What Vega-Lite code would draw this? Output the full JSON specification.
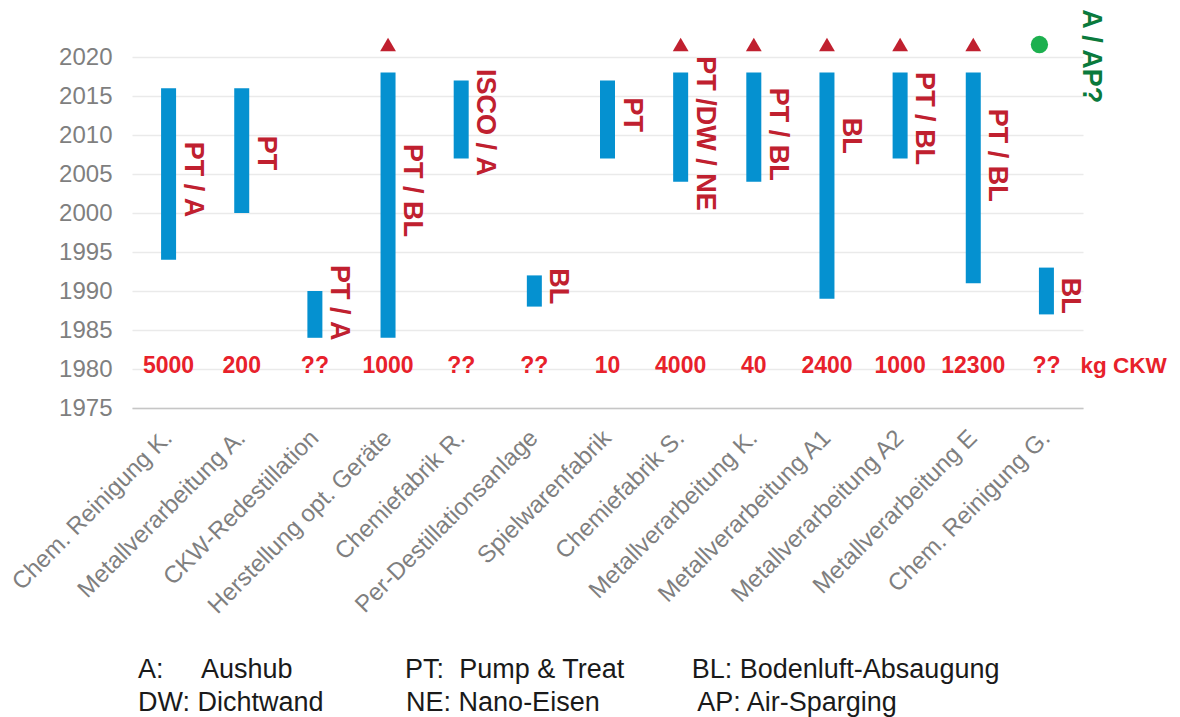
{
  "$schema": "https://vega.github.io/schema/vega-lite/v6.json",
  "width": 951,
  "height": 390,
  "padding": {"left": 7, "top": 8, "right": 5, "bottom": 5},
  "autosize": {"type": "pad"},
  "background": "white",
  "title": {
    "text": [
      "A:\u00a0\u00a0\u00a0\u00a0\u00a0Aushub\u00a0\u00a0\u00a0\u00a0\u00a0\u00a0\u00a0\u00a0\u00a0\u00a0\u00a0\u00a0\u00a0\u00a0\u00a0PT:\u00a0\u00a0Pump & Treat\u00a0\u00a0\u00a0\u00a0\u00a0\u00a0\u00a0\u00a0\u00a0BL: Bodenluft-Absaugung",
      "DW: Dichtwand\u00a0\u00a0\u00a0\u00a0\u00a0\u00a0\u00a0\u00a0\u00a0\u00a0\u00a0NE: Nano-Eisen\u00a0\u00a0\u00a0\u00a0\u00a0\u00a0\u00a0\u00a0\u00a0\u00a0\u00a0\u00a0\u00a0AP: Air-Sparging"
    ],
    "orient": "bottom",
    "anchor": "start",
    "frame": "group",
    "dx": 6,
    "offset": 39,
    "fontSize": 27,
    "fontWeight": "normal",
    "font": "Liberation Sans",
    "color": "#1A1A1A",
    "lineHeight": 33.4
  },
  "data": {
    "values": [
      {"Standort": "Chem. Reinigung K.", "von": 1994, "bis": 2016, "Massnahme": "PT / A", "labelYear": 2004.3, "ckw": "5000", "laufend": false},
      {"Standort": "Metallverarbeitung A.", "von": 2000, "bis": 2016, "Massnahme": "PT", "labelYear": 2007.7, "ckw": "200", "laufend": false},
      {"Standort": "CKW-Redestillation", "von": 1984, "bis": 1990, "Massnahme": "PT / A", "labelYear": 1988.5, "ckw": "??", "laufend": false},
      {"Standort": "Herstellung opt. Geräte", "von": 1984, "bis": 2018, "Massnahme": "PT / BL", "labelYear": 2002.9, "ckw": "1000", "laufend": true},
      {"Standort": "Chemiefabrik R.", "von": 2007, "bis": 2017, "Massnahme": "ISCO / A", "labelYear": 2011.6, "ckw": "??", "laufend": false},
      {"Standort": "Per-Destillationsanlage", "von": 1988, "bis": 1992, "Massnahme": "BL", "labelYear": 1990.6, "ckw": "??", "laufend": false},
      {"Standort": "Spielwarenfabrik", "von": 2007, "bis": 2017, "Massnahme": "PT", "labelYear": 2012.6, "ckw": "10", "laufend": false},
      {"Standort": "Chemiefabrik S.", "von": 2004, "bis": 2018, "Massnahme": "PT /DW / NE", "labelYear": 2010.2, "ckw": "4000", "laufend": true},
      {"Standort": "Metallverarbeitung K.", "von": 2004, "bis": 2018, "Massnahme": "PT / BL", "labelYear": 2010.1, "ckw": "40", "laufend": true},
      {"Standort": "Metallverarbeitung A1", "von": 1989, "bis": 2018, "Massnahme": "BL", "labelYear": 2009.9, "ckw": "2400", "laufend": true},
      {"Standort": "Metallverarbeitung A2", "von": 2007, "bis": 2018, "Massnahme": "PT / BL", "labelYear": 2012.1, "ckw": "1000", "laufend": true},
      {"Standort": "Metallverarbeitung E", "von": 1991, "bis": 2018, "Massnahme": "PT / BL", "labelYear": 2007.4, "ckw": "12300", "laufend": true},
      {"Standort": "Chem. Reinigung G.", "von": 1987, "bis": 1993, "Massnahme": "BL", "labelYear": 1989.4, "ckw": "??", "laufend": false, "geplant": "A / AP?", "geplantYear": 2020.1}
    ]
  },
  "encoding": {
    "x": {
      "field": "Standort",
      "type": "nominal",
      "sort": null,
      "title": null,
      "scale": {
        "domain": ["Chem. Reinigung K.", "Metallverarbeitung A.", "CKW-Redestillation", "Herstellung opt. Geräte", "Chemiefabrik R.", "Per-Destillationsanlage", "Spielwarenfabrik", "Chemiefabrik S.", "Metallverarbeitung K.", "Metallverarbeitung A1", "Metallverarbeitung A2", "Metallverarbeitung E", "Chem. Reinigung G."],
        "paddingInner": 0,
        "paddingOuter": 0
      }
    }
  },
  "layer": [
    {
      "mark": {"type": "bar", "size": 15, "color": "#0591D0"},
      "encoding": {
        "y": {
          "field": "von",
          "type": "quantitative",
          "title": null,
          "scale": {"domain": [1975, 2025], "nice": false, "zero": false},
          "axis": {"values": [1975, 1980, 1985, 1990, 1995, 2000, 2005, 2010, 2015, 2020], "format": "d"}
        },
        "y2": {"field": "bis"}
      }
    },
    {
      "mark": {"type": "text", "angle": 90, "align": "center", "baseline": "middle", "xOffset": 24, "fontSize": 27, "fontWeight": "bold", "font": "Liberation Sans", "color": "#C0202F"},
      "encoding": {
        "y": {"field": "labelYear", "type": "quantitative", "title": null},
        "text": {"field": "Massnahme"}
      }
    },
    {
      "transform": [{"filter": "datum.laufend"}],
      "mark": {"type": "point", "shape": "triangle-up", "filled": true, "size": 250, "color": "#C0202F", "opacity": 1},
      "encoding": {
        "y": {"datum": 2021.6, "type": "quantitative"}
      }
    },
    {
      "transform": [{"filter": "isValid(datum.geplant)"}],
      "mark": {"type": "circle", "size": 300, "color": "#1DB04F", "opacity": 1, "xOffset": -7},
      "encoding": {
        "y": {"datum": 2021.6, "type": "quantitative"}
      }
    },
    {
      "transform": [{"filter": "isValid(datum.geplant)"}],
      "mark": {"type": "text", "angle": 90, "align": "center", "baseline": "middle", "xOffset": 45, "fontSize": 27, "fontWeight": "bold", "font": "Liberation Sans", "color": "#0A7A3C"},
      "encoding": {
        "y": {"field": "geplantYear", "type": "quantitative", "title": null},
        "text": {"field": "geplant"}
      }
    },
    {
      "mark": {"type": "text", "align": "center", "baseline": "alphabetic", "dy": 4, "fontSize": 23, "fontWeight": "bold", "font": "Liberation Sans", "color": "#E8212B"},
      "encoding": {
        "y": {"datum": 1980, "type": "quantitative"},
        "text": {"field": "ckw"}
      }
    },
    {
      "data": {"values": [{"einheit": "kg CKW"}]},
      "mark": {"type": "text", "align": "left", "baseline": "alphabetic", "dy": 4, "xOffset": 34, "fontSize": 22.5, "fontWeight": "bold", "font": "Liberation Sans", "color": "#E8212B"},
      "encoding": {
        "x": {"datum": "Chem. Reinigung G.", "type": "nominal"},
        "y": {"datum": 1980, "type": "quantitative"},
        "text": {"field": "einheit"}
      }
    }
  ],
  "config": {
    "font": "Liberation Sans",
    "view": {"stroke": null},
    "axisX": {
      "labelAngle": -45,
      "labelAlign": "right",
      "labelBaseline": "middle",
      "labelPadding": 26,
      "labelFontSize": 24,
      "labelColor": "#7F7F7F",
      "labelFont": "Liberation Sans",
      "labelLimit": 400,
      "labelOverlap": false,
      "ticks": false,
      "tickSize": 0,
      "domainColor": "#C6C6C6",
      "domainWidth": 1.5,
      "grid": false,
      "zindex": 1
    },
    "axisY": {
      "grid": true,
      "gridColor": "#EAEAEA",
      "gridWidth": 1.5,
      "domain": false,
      "ticks": false,
      "tickSize": 0,
      "labelPadding": 20,
      "labelFontSize": 24,
      "labelColor": "#7F7F7F",
      "labelFont": "Liberation Sans",
      "labelOverlap": false,
      "labelFlush": false
    }
  }
}
